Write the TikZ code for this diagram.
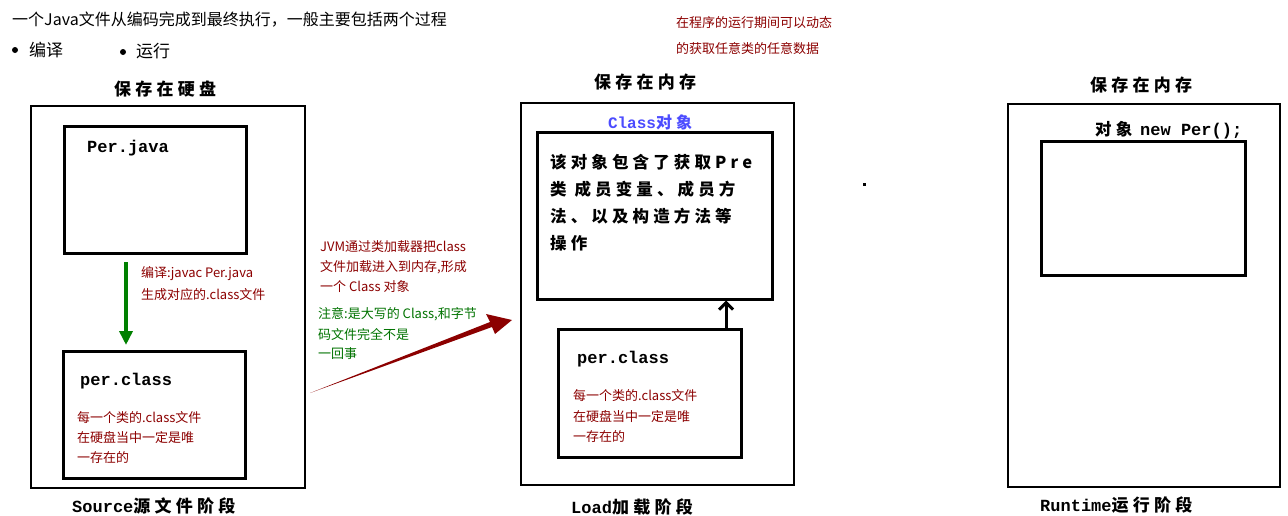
\documentclass[tikz,border=0pt]{standalone}
\usepackage{fontspec}
\usetikzlibrary{arrows.meta}
\setmainfont{Noto Sans CJK SC}
\newfontfamily\monob{Liberation Mono}
\newfontfamily\cjksp[LetterSpace=25]{Noto Sans CJK SC}
\begin{document}
\begin{tikzpicture}[x=1pt,y=-1pt,
  bx/.style={draw=black,line width=2pt},
  lt/.style={anchor=west,inner sep=0pt,font=\fontsize{13}{13}\selectfont},
  rd/.style={lt,text=red!55!black},
  gr/.style={lt,text=green!45!black},
  hd/.style={inner sep=0pt,font=\fontsize{17}{17}\cjksp\bfseries},
  bt/.style={lt,font=\fontsize{16.5}{16.5}\cjksp\bfseries},
  code/.style={anchor=west,inner sep=0pt,font=\fontsize{17}{17}\monob\bfseries}]
\useasboundingbox (0,0) rectangle (1288,515);
\fill[white] (0,0) rectangle (1288,515);
\node[lt,font=\fontsize{16}{16}\selectfont] (t1) at (12,20) {一个Java文件从编码完成到最终执行，一般主要包括两个过程};
\fill (15,50) circle (3pt);
\node[lt,font=\fontsize{17}{17}\selectfont] (t2) at (29,50) {编译};
\fill (123,52) circle (3pt);
\node[lt,font=\fontsize{17}{17}\selectfont] (t3) at (136,51) {运行};
\node[rd] (r1) at (676,23) {在程序的运行期间可以动态};
\node[rd] (r2) at (676,49) {的获取任意类的任意数据};
% stage 1
\node[hd] (h1) at (165,89) {保存在硬盘};
\node[bx,draw,minimum width=274,minimum height=382,anchor=north west,inner sep=0pt] (o1) at (30,105) {};
\node[bx,line width=2.5pt,minimum width=182,minimum height=127,anchor=north west,inner sep=0pt] (pj) at (63,125) {};
\node[code] (pjt) at (87,148) {Per.java};
\node[bx,line width=2.5pt,minimum width=182,minimum height=127,anchor=north west,inner sep=0pt] (pc) at (62,350) {};
\node[code] (pct) at (80,381) {per.class};
\draw[green!50!black,line width=4.5pt,-{Triangle[length=14pt,width=13pt]}] (126,262) coordinate (g1) -- (126,345) coordinate (g2);
\node[rd] (c1) at (141,274) {编译:javac Per.java};
\node[rd] (c2) at (141,295) {生成对应的.class文件};
\node[rd] (p1) at (77,418) {每一个类的.class文件};
\node[rd] (p2) at (77,438) {在硬盘当中一定是唯};
\node[rd] (p3) at (77,458) {一存在的};
\node[hd,anchor=west] (s1) at (72,506) {{\monob Source}源文件阶段};
% middle
\node[rd] (j1) at (320,247) {JVM通过类加载器把class};
\node[rd] (j2) at (320,267) {文件加载进入到内存,形成};
\node[rd] (j3) at (320,287) {一个 Class 对象};
\node[gr] (n1) at (318,314) {注意:是大写的 Class,和字节};
\node[gr] (n2) at (318,334) {码文件完全不是};
\node[gr] (n3) at (318,354) {一回事};
\coordinate (a1) at (310,393);
\coordinate (a2) at (512,320);
\fill[red!55!black] (a1) -- (490,322) -- (486,314) -- (a2) -- (495,334) -- (492,327) -- cycle;
% stage 2
\node[hd] (h2) at (645,82) {保存在内存};
\node[bx,minimum width=273,minimum height=382,anchor=north west,inner sep=0pt] (o2) at (520,102) {};
\node[inner sep=0pt,font=\fontsize{16}{16}\monob\bfseries,text=blue!70!white] (co) at (650,122) {Class\cjksp 对象};
\node[bx,line width=2.5pt,minimum width=235,minimum height=167,anchor=north west,inner sep=0pt] (cb) at (536,131) {};
\node[bt] (k1) at (550,162) {该对象包含了获取Pre};
\node[bt] (k2) at (550,189) {类 成员变量、成员方};
\node[bt] (k3) at (550,216) {法、以及构造方法等};
\node[bt] (k4) at (550,243) {操作};
\node[bx,line width=2.5pt,minimum width=183,minimum height=128,anchor=north west,inner sep=0pt] (pc2) at (557,328) {};
\node[code] (pct2) at (577,359) {per.class};
\draw[line width=3pt,-{Straight Barb[length=7pt,width=14pt,line width=3pt]}] (726,328) -- (cb.south -| 726,0);
\node[rd] (q1) at (573,396) {每一个类的.class文件};
\node[rd] (q2) at (573,417) {在硬盘当中一定是唯};
\node[rd] (q3) at (573,437) {一存在的};
\node[hd,anchor=west] (s2) at (571,507) {{\monob Load}加载阶段};
\fill (863,183) rectangle (866,186);
% stage 3
\node[hd] (h3) at (1141,85) {保存在内存};
\node[bx,minimum width=272,minimum height=383,anchor=north west,inner sep=0pt] (o3) at (1007,103) {};
\node[bt] (ob) at (1095,130) {对象 {\fontsize{17}{17}\monob new Per();}};
\node[bx,line width=2.5pt,minimum width=204,minimum height=134,anchor=north west,inner sep=0pt] (rb) at (1040,140) {};
\node[hd,anchor=west] (s3) at (1040,505) {{\monob Runtime}运行阶段};
\end{tikzpicture}
\end{document}
